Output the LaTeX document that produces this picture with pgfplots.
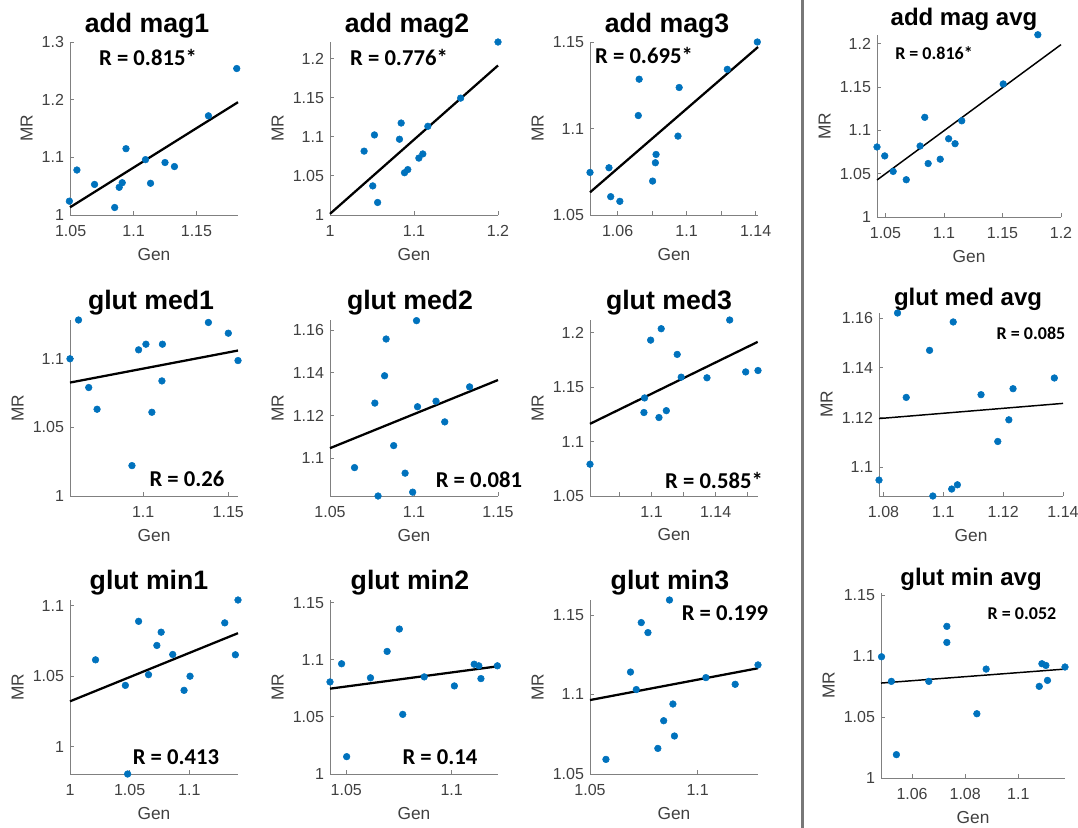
\documentclass[border=0pt]{standalone}
\usepackage{pgfplots}
\pgfplotsset{compat=1.18}
\usepackage{fontspec}
\setmainfont{Liberation Sans}
\newfontfamily\calibri{Carlito}
\definecolor{mblue}{RGB}{0,114,189}
\definecolor{axgray}{RGB}{128,128,128}
\definecolor{lblgray}{RGB}{64,64,64}
\definecolor{sepgray}{RGB}{120,120,120}

\pgfplotsset{
  panel/.style={
    scale only axis, anchor=south west,
    axis x line*=bottom, axis y line*=left,
    axis line style={axgray, line width=0.6pt},
    tick align=inside, major tick length=3pt,
    tick style={axgray, line width=0.6pt},
    clip=false,
    scaled ticks=false,
    /pgf/number format/assume math mode=true,
    /pgf/number format/fixed,
    /pgf/number format/precision=2,
    tick label style={font=\fontsize{12}{12}\selectfont, text=lblgray},
    xticklabel style={yshift=-4pt},
    yticklabel style={xshift=-1pt},
    xlabel={Gen}, ylabel={MR},
    label style={font=\fontsize{13}{13}\selectfont, text=lblgray},
    xlabel style={yshift=-2pt},
  },
  dots/.style={only marks, mark=*, mark size=2.5pt, color=mblue},
  fit/.style={no marks, black, line width=1.7pt},
  fitthin/.style={no marks, black, line width=1.1pt},
}
\newcommand{\ttl}{\fontsize{20}{20}\selectfont\bfseries}
\newcommand{\ttlsm}{\fontsize{18}{18}\selectfont\bfseries}
\newcommand{\rlab}{\calibri\fontsize{17}{17}\selectfont\bfseries}
\newcommand{\rlabsm}{\calibri\fontsize{13.5}{13.5}\selectfont\bfseries}

\begin{document}
\begin{tikzpicture}
\useasboundingbox (0,0) rectangle (808.5pt,-621pt);

% separator between the single-session columns and the averages
\draw[sepgray, line width=2.2pt] (602pt,0pt) -- (602pt,-621pt);

% ---------- row 1: add mag ----------
\begin{axis}[panel, at={(52.5pt,-161.25pt)}, width=126pt, height=129.75pt,
  xmin=1.0495, xmax=1.183, ymin=1, ymax=1.3,
  xtick={1.05,1.1,1.15}, ytick={1,1.1,1.2,1.3}]
\addplot[dots] coordinates {(1.049,1.024) (1.055,1.078) (1.069,1.053) (1.085,1.013) (1.0886,1.048) (1.091,1.056) (1.094,1.115) (1.1095,1.096) (1.1135,1.055) (1.125,1.091) (1.1325,1.084) (1.1595,1.172) (1.182,1.254)};
\addplot[fit] coordinates {(1.0495,1.0133) (1.183,1.1956)};
\end{axis}

\begin{axis}[panel, at={(247.5pt,-161.25pt)}, width=126pt, height=129.75pt,
  xmin=1, xmax=1.2, ymin=1, ymax=1.221,
  xtick={1,1.1,1.2}, ytick={1,1.05,1.1,1.15,1.2}]
\addplot[dots] coordinates {(1.0406,1.0816) (1.0509,1.0372) (1.0529,1.1023) (1.0567,1.016) (1.0827,1.0968) (1.0847,1.1175) (1.0887,1.054) (1.0926,1.058) (1.1058,1.0727) (1.1105,1.078) (1.1165,1.1133) (1.1555,1.1493) (1.2,1.221)};
\addplot[fit] coordinates {(1,1.0015) (1.2,1.191)};
\end{axis}

\begin{axis}[panel, at={(442.5pt,-161.25pt)}, width=126pt, height=129.75pt,
  xmin=1.044, xmax=1.1414, ymin=1.05, ymax=1.15,
  xtick={1.06,1.08,1.1,1.12,1.14}, xticklabels={1.06,,1.1,,1.14},
  ytick={1.05,1.1,1.15}]
\addplot[dots] coordinates {(1.044,1.0746) (1.055,1.0773) (1.056,1.0606) (1.0613,1.0579) (1.072,1.1075) (1.0725,1.1285) (1.0803,1.0696) (1.0819,1.0802) (1.0823,1.085) (1.095,1.0956) (1.0957,1.1237) (1.1236,1.1342) (1.141,1.15)};
\addplot[fit] coordinates {(1.044,1.0631) (1.1414,1.1471)};
\end{axis}

\begin{axis}[panel, at={(657.75pt,-162.75pt)}, width=138pt, height=136.5pt,
  xmin=1.0428, xmax=1.2, ymin=1, ymax=1.21,
  xtick={1.05,1.1,1.15,1.2}, ytick={1,1.05,1.1,1.15,1.2}]
\addplot[dots] coordinates {(1.0428,1.0808) (1.0494,1.0705) (1.0566,1.0526) (1.0678,1.043) (1.0796,1.0819) (1.0836,1.115) (1.0865,1.0617) (1.0968,1.0667) (1.104,1.0903) (1.1095,1.0846) (1.1152,1.111) (1.1506,1.1535) (1.1802,1.2103)};
\addplot[fitthin] coordinates {(1.0428,1.0427) (1.2,1.1989)};
\end{axis}

% ---------- row 2: glut med ----------
\begin{axis}[panel, at={(52.5pt,-372pt)}, width=126pt, height=132pt,
  xmin=1.057, xmax=1.1557, ymin=1, ymax=1.128,
  xtick={1.1,1.15}, ytick={1,1.05,1.1}]
\addplot[dots] coordinates {(1.057,1.0998) (1.062,1.128) (1.068,1.0789) (1.0729,1.0631) (1.0934,1.0221) (1.0973,1.1063) (1.1016,1.1104) (1.1051,1.0609) (1.111,1.0837) (1.1113,1.1104) (1.1383,1.1262) (1.15,1.1184) (1.1557,1.0985)};
\addplot[fit] coordinates {(1.057,1.0825) (1.1557,1.1058)};
\end{axis}

\begin{axis}[panel, at={(247.5pt,-372pt)}, width=126pt, height=132pt,
  xmin=1.05, xmax=1.15, ymin=1.0823, ymax=1.1647,
  xtick={1.05,1.1,1.15}, ytick={1.1,1.12,1.14,1.16}]
\addplot[dots] coordinates {(1.0646,1.0956) (1.0767,1.1258) (1.0786,1.0823) (1.0825,1.1386) (1.0834,1.1558) (1.0879,1.1059) (1.0947,1.093) (1.0992,1.0841) (1.1015,1.1644) (1.1021,1.1241) (1.1131,1.1267) (1.1183,1.117) (1.1331,1.1334)};
\addplot[fit] coordinates {(1.05,1.1047) (1.15,1.1366)};
\end{axis}

\begin{axis}[panel, at={(442.5pt,-372pt)}, width=126pt, height=132pt,
  xmin=1.0615, xmax=1.1665, ymin=1.05, ymax=1.2117,
  xtick={1.08,1.1,1.12,1.14,1.16}, xticklabels={,1.1,,1.14,},
  ytick={1.05,1.1,1.15,1.2}]
\addplot[dots] coordinates {(1.0615,1.0792) (1.0952,1.1267) (1.0956,1.1401) (1.0994,1.1932) (1.1046,1.1221) (1.106,1.2037) (1.1092,1.1284) (1.116,1.1801) (1.1185,1.1592) (1.1346,1.1586) (1.1488,1.2117) (1.1588,1.164) (1.1665,1.1653)};
\addplot[fit] coordinates {(1.0615,1.1163) (1.1663,1.1916)};
\end{axis}

\begin{axis}[panel, at={(659.25pt,-372pt)}, width=138pt, height=137.25pt,
  xmin=1.0785, xmax=1.14, ymin=1.0885, ymax=1.162,
  xtick={1.08,1.1,1.12,1.14}, ytick={1.1,1.12,1.14,1.16}]
\addplot[dots] coordinates {(1.0785,1.0949) (1.0847,1.162) (1.0876,1.1281) (1.0954,1.147) (1.0965,1.0885) (1.1028,1.0913) (1.1033,1.1584) (1.1047,1.093) (1.1126,1.1292) (1.1182,1.1104) (1.1219,1.1191) (1.1233,1.1316) (1.1371,1.1359)};
\addplot[fitthin] coordinates {(1.0785,1.1196) (1.14,1.1257)};
\end{axis}

% ---------- row 3: glut min ----------
\begin{axis}[panel, at={(52.5pt,-580.5pt)}, width=126pt, height=130.5pt,
  xmin=1, xmax=1.1408, ymin=0.9807, ymax=1.104,
  xtick={1,1.05,1.1}, ytick={1,1.05,1.1}]
\addplot[dots] coordinates {(1.0214,1.0616) (1.0464,1.0435) (1.0483,0.9807) (1.0575,1.0889) (1.0658,1.0511) (1.0728,1.0718) (1.0764,1.0812) (1.0861,1.0654) (1.0956,1.04) (1.1006,1.05) (1.1297,1.0878) (1.1386,1.0652) (1.1408,1.104)};
\addplot[fit] coordinates {(1,1.0322) (1.1408,1.0805)};
\end{axis}

\begin{axis}[panel, at={(247.5pt,-580.5pt)}, width=126pt, height=130.5pt,
  xmin=1.0423, xmax=1.122, ymin=1, ymax=1.1523,
  xtick={1.05,1.1}, ytick={1,1.05,1.1,1.15}]
\addplot[dots] coordinates {(1.0423,1.0806) (1.0478,1.0965) (1.0502,1.0152) (1.0615,1.0842) (1.0694,1.1073) (1.0752,1.1269) (1.0768,1.0522) (1.087,1.085) (1.1013,1.0771) (1.1107,1.0961) (1.1129,1.0947) (1.1139,1.0835) (1.1217,1.0947)};
\addplot[fit] coordinates {(1.0423,1.0747) (1.122,1.0943)};
\end{axis}

\begin{axis}[panel, at={(442.5pt,-580.5pt)}, width=126pt, height=130.5pt,
  xmin=1.05, xmax=1.128, ymin=1.05, ymax=1.1594,
  xtick={1.05,1.1}, ytick={1.05,1.1,1.15}]
\addplot[dots] coordinates {(1.0574,1.0592) (1.0688,1.1141) (1.0715,1.1031) (1.0738,1.1452) (1.0769,1.1389) (1.0815,1.0661) (1.0842,1.0835) (1.0869,1.1594) (1.0885,1.094) (1.0892,1.0739) (1.1038,1.1106) (1.1174,1.1064) (1.128,1.1186)};
\addplot[fit] coordinates {(1.05,1.0965) (1.128,1.1165)};
\end{axis}

\begin{axis}[panel, at={(660.75pt,-583.5pt)}, width=138pt, height=138.75pt,
  xmin=1.0483, xmax=1.1176, ymin=1, ymax=1.152,
  xtick={1.06,1.08,1.1}, ytick={1,1.05,1.1,1.15}]
\addplot[dots] coordinates {(1.0485,1.0996) (1.0522,1.0794) (1.0541,1.0192) (1.0663,1.0794) (1.0731,1.1246) (1.0731,1.1114) (1.0844,1.0528) (1.0879,1.0895) (1.1079,1.0753) (1.1089,1.0939) (1.1104,1.0925) (1.111,1.0802) (1.1176,1.0912)};
\addplot[fitthin] coordinates {(1.0483,1.078) (1.1176,1.0895)};
\end{axis}

% ---------- panel titles ----------
\node[anchor=base, font=\ttl] at ({147*0.75pt},{-32*0.75pt}) {add mag1};
\node[anchor=base, font=\ttl] at ({407*0.75pt},{-32*0.75pt}) {add mag2};
\node[anchor=base, font=\ttl] at ({667*0.75pt},{-32*0.75pt}) {add mag3};
\node[anchor=base, font=\ttlsm] at ({964*0.75pt},{-25*0.75pt}) {add mag avg};
\node[anchor=base, font=\ttl] at ({151*0.75pt},{-309*0.75pt}) {glut med1};
\node[anchor=base, font=\ttl] at ({410*0.75pt},{-309*0.75pt}) {glut med2};
\node[anchor=base, font=\ttl] at ({669*0.75pt},{-309*0.75pt}) {glut med3};
\node[anchor=base, font=\ttlsm] at ({968*0.75pt},{-305*0.75pt}) {glut med avg};
\node[anchor=base, font=\ttl] at ({149*0.75pt},{-589*0.75pt}) {glut min1};
\node[anchor=base, font=\ttl] at ({410*0.75pt},{-589*0.75pt}) {glut min2};
\node[anchor=base, font=\ttl] at ({670*0.75pt},{-589*0.75pt}) {glut min3};
\node[anchor=base, font=\ttlsm] at ({971*0.75pt},{-585*0.75pt}) {glut min avg};

% ---------- correlation coefficients ----------
\node[font=\rlab] at ({148*0.75pt},{-57*0.75pt}) {R = 0.815*};
\node[font=\rlab] at ({399*0.75pt},{-57*0.75pt}) {R = 0.776*};
\node[font=\rlab] at ({644*0.75pt},{-55*0.75pt}) {R = 0.695*};
\node[font=\rlabsm] at ({934*0.75pt},{-53*0.75pt}) {R = 0.816*};
\node[font=\rlab] at ({187*0.75pt},{-479*0.75pt}) {R = 0.26};
\node[font=\rlab] at ({479*0.75pt},{-480*0.75pt}) {R = 0.081};
\node[font=\rlab] at ({714*0.75pt},{-480*0.75pt}) {R = 0.585*};
\node[font=\rlabsm] at ({1031*0.75pt},{-333*0.75pt}) {R = 0.085};
\node[font=\rlab] at ({176*0.75pt},{-757*0.75pt}) {R = 0.413};
\node[font=\rlab] at ({440*0.75pt},{-757*0.75pt}) {R = 0.14};
\node[font=\rlab] at ({725*0.75pt},{-613*0.75pt}) {R = 0.199};
\node[font=\rlabsm] at ({1022*0.75pt},{-614*0.75pt}) {R = 0.052};
\end{tikzpicture}
\end{document}
